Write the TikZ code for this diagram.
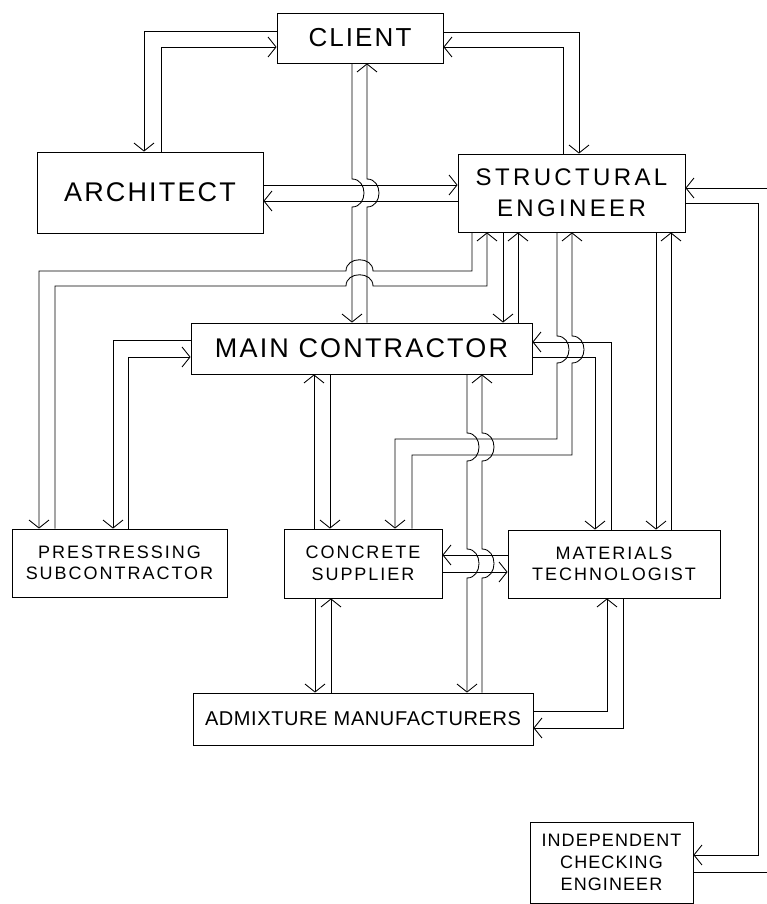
\documentclass[tikz,border=0pt]{standalone}
\usepackage{fontspec}
\setmainfont{Liberation Sans}
\newfontfamily\plotbig[LetterSpace=8]{Liberation Sans}
\newfontfamily\plotsmall[LetterSpace=11]{Liberation Sans}
\usepackage{tikz}
\usetikzlibrary{arrows.meta}

\begin{document}
\begin{tikzpicture}[x=1pt, y=-1pt, line width=0.85pt,
  >={Straight Barb[length=8pt,width=20pt]},
  party/.style={draw, rectangle, inner sep=0pt, align=center},
  bigname/.style={party, font=\plotbig\fontsize{26}{31}\selectfont},
  smallname/.style={party, font=\plotsmall\fontsize{18}{21.5}\selectfont}]
\useasboundingbox (0,0) rectangle (767,904);
% ======== boxes ========
\node[bigname, minimum width=166pt, minimum height=50pt] (CL) at (360,38) {CLIENT};
\node[bigname, minimum width=226pt, minimum height=81pt, font=\plotbig\fontsize{27}{31}\selectfont] (AR) at (150,192.5) {ARCHITECT};
\node[bigname, minimum width=227pt, minimum height=78pt, font=\plotbig\addfontfeature{LetterSpace=14}\fontsize{24}{31}\selectfont] (SE) at (571.5,193) {STRUCTURAL\\ENGINEER};
\node[bigname, minimum width=341pt, minimum height=51pt, font=\plotbig\fontsize{27}{31}\selectfont] (MC) at (361.5,348.5) {MAIN CONTRACTOR};
\node[smallname, minimum width=215pt, minimum height=68pt] (PS) at (119.5,563) {PRESTRESSING\\SUBCONTRACTOR};
\node[smallname, minimum width=158pt, minimum height=69pt] (CS) at (363,563.5) {CONCRETE\\SUPPLIER};
\node[smallname, minimum width=212pt, minimum height=68pt] (MT) at (614,564) {MATERIALS\\TECHNOLOGIST};
\node[smallname, minimum width=340pt, minimum height=52pt, font=\plotsmall\addfontfeature{LetterSpace=3}\fontsize{20}{24}\selectfont] (AM) at (363,719) {ADMIXTURE MANUFACTURERS};
\node[smallname, minimum width=163pt, minimum height=81pt, font=\plotsmall\addfontfeature{LetterSpace=6}\fontsize{18}{22}\selectfont] (ICE) at (611.5,862.5) {INDEPENDENT\\CHECKING\\ENGINEER};
% ======== client links ========
\draw[->] (CL.west |- 0,31) -- (144,31) -- (AR.north -| 144,0);
\draw[->] (AR.north -| 161,0) -- (161,47) -- (CL.west |- 0,47);
\draw[->] (CL.east |- 0,32) -- (579,32) -- (SE.north -| 579,0);
\draw[->] (SE.north -| 563,0) -- (563,47) -- (CL.east |- 0,47);
% client <-> main contractor, jumps over the architect lines
\draw[->] (CL.south -| 352,0) -- (352,179) .. controls (368,179) and (368,207) .. (352,207) -- (MC.north -| 352,0);
\draw[->] (MC.north -| 367,0) -- (367,207) .. controls (383,207) and (383,179) .. (367,179) -- (CL.south -| 367,0);
% architect <-> structural engineer
\draw[->] (AR.east |- 0,185) -- (SE.west |- 0,185);
\draw[->] (SE.west |- 0,201) -- (AR.east |- 0,201);
% ======== structural engineer links ========
% to prestressing subcontractor, humps over the client line
\draw[->] (SE.south -| 472,0) -- (472,271) -- (373,271) .. controls (373,256) and (346,256) .. (346,271) -- (39,271) -- (PS.north -| 39,0);
\draw[->] (PS.north -| 55,0) -- (55,286) -- (346,286) .. controls (346,271) and (373,271) .. (373,286) -- (487,286) -- (SE.south -| 487,0);
% to main contractor
\draw[->] (SE.south -| 503,0) -- (MC.north -| 503,0);
\draw[->] (MC.north -| 518,0) -- (SE.south -| 518,0);
% to concrete supplier
\draw[->] (SE.south -| 557,0) -- (557,336) .. controls (573,336) and (573,363) .. (557,363) -- (557,439) -- (395,439) -- (CS.north -| 395,0);
\draw[->] (CS.north -| 412,0) -- (412,455) -- (572,455) -- (572,363) .. controls (588,363) and (588,336) .. (572,336) -- (SE.south -| 572,0);
% to materials technologist
\draw[->] (SE.south -| 656,0) -- (MT.north -| 656,0);
\draw[->] (MT.north -| 671,0) -- (SE.south -| 671,0);
% to independent checking engineer
\draw[->] (SE.east |- 0,203) -- (758,203) -- (758,855) -- (ICE.east |- 0,855);
\draw[->] (ICE.east |- 0,872) -- (772,872) -- (772,188) -- (SE.east |- 0,188);
% ======== main contractor links ========
\draw[->] (MC.west |- 0,340) -- (113,340) -- (PS.north -| 113,0);
\draw[->] (PS.north -| 128,0) -- (128,357) -- (MC.west |- 0,357);
\draw[->] (MT.north -| 611,0) -- (611,342) -- (MC.east |- 0,342);
\draw[->] (MC.east |- 0,357) -- (595,357) -- (MT.north -| 595,0);
\draw[->] (CS.north -| 314,0) -- (MC.south -| 314,0);
\draw[->] (MC.south -| 330,0) -- (CS.north -| 330,0);
% to admixture manufacturers, jumping the supplier lines
\draw[->] (MC.south -| 467,0) -- (467,433) .. controls (483,433) and (483,461) .. (467,461) -- (467,549) .. controls (483,549) and (483,578) .. (467,578) -- (AM.north -| 467,0);
\draw[->] (AM.north -| 482,0) -- (482,578) .. controls (498,578) and (498,549) .. (482,549) -- (482,461) .. controls (498,461) and (498,433) .. (482,433) -- (MC.south -| 482,0);
% ======== supplier, technologist, admixtures ========
\draw[->] (MT.west |- 0,555) -- (CS.east |- 0,555);
\draw[->] (CS.east |- 0,572) -- (MT.west |- 0,572);
\draw[->] (CS.south -| 315,0) -- (AM.north -| 315,0);
\draw[->] (AM.north -| 331,0) -- (CS.south -| 331,0);
\draw[->] (AM.east |- 0,711) -- (607,711) -- (MT.south -| 607,0);
\draw[->] (MT.south -| 623,0) -- (623,728) -- (AM.east |- 0,728);
\end{tikzpicture}
\end{document}
